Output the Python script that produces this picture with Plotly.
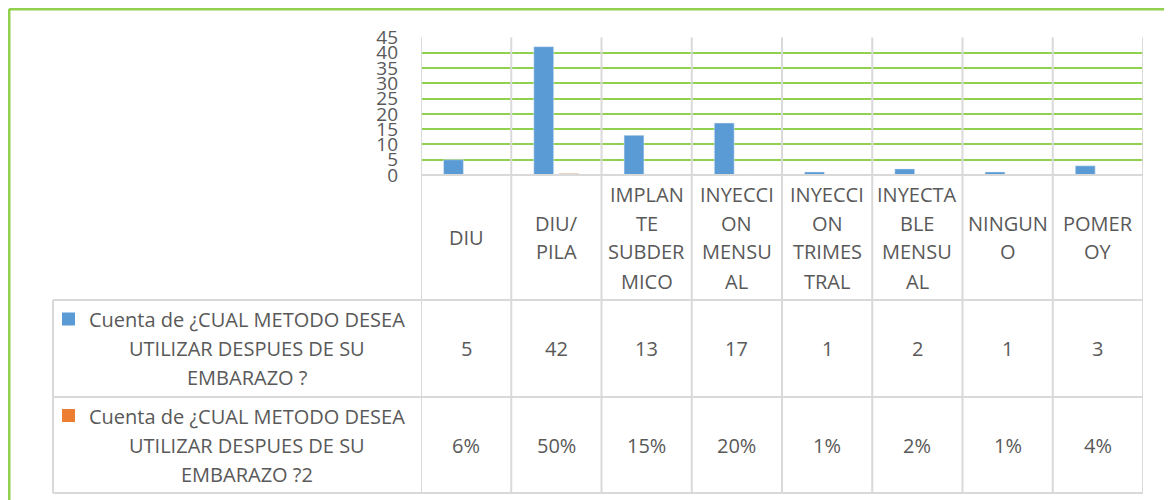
import plotly.graph_objects as go

# ---------------- data ----------------
categories = ["DIU", "DIU/PILA", "IMPLANTE SUBDERMICO", "INYECCION MENSUAL",
              "INYECCION TRIMESTRAL", "INYECTABLE MENSUAL", "NINGUNO", "POMEROY"]
category_lines = [["DIU"], ["DIU/", "PILA"], ["IMPLAN", "TE", "SUBDER", "MICO"],
                  ["INYECCI", "ON", "MENSU", "AL"], ["INYECCI", "ON", "TRIMES", "TRAL"],
                  ["INYECTA", "BLE", "MENSU", "AL"], ["NINGUN", "O"], ["POMER", "OY"]]
counts = [5, 42, 13, 17, 1, 2, 1, 3]
shares = [0.06, 0.50, 0.15, 0.20, 0.01, 0.02, 0.01, 0.04]
series_names = ["Cuenta de ¿CUAL METODO DESEA UTILIZAR DESPUES DE SU EMBARAZO ?",
                "Cuenta de ¿CUAL METODO DESEA UTILIZAR DESPUES DE SU EMBARAZO ?2"]
series_name_lines = [["Cuenta de ¿CUAL METODO DESEA", "UTILIZAR DESPUES DE SU", "EMBARAZO ?"],
                     ["Cuenta de ¿CUAL METODO DESEA", "UTILIZAR DESPUES DE SU", "EMBARAZO ?2"]]
y_ticks = [0, 5, 10, 15, 20, 25, 30, 35, 40, 45]

# ---------------- style ----------------
PAGE_OFF = 8           # page body margin in the browser
W, H = 1172 - PAGE_OFF, 500 - PAGE_OFF
BLUE, ORANGE = "#5B9BD5", "#ED7D31"
GREEN, GRAY, TEXT = "#92D050", "#D9D9D9", "#595959"
FONT = "Open Sans"
FS = 20
LINE = 29


def fx(p):
    return (p - PAGE_OFF) / W


def fy(p):
    return 1 - (p - PAGE_OFF) / H


PLOT_L, PLOT_R, PLOT_T, PLOT_B = 421, 1143, 37.5, 175
TABLE_L, ROW1, ROW2, TABLE_B = 53, 300, 397, 493
n = len(categories)
xs = list(range(n))

fig = go.Figure()
fig.add_trace(go.Bar(x=xs, y=counts, name=series_names[0], marker_color=BLUE,
                     width=0.22, offset=-0.25, hoverinfo="y"))
fig.add_trace(go.Bar(x=xs, y=shares, name=series_names[1], marker_color=ORANGE,
                     width=0.22, offset=0.03, hoverinfo="y"))

shapes = []
# outer frame (left and top visible)
shapes.append(dict(type="line", xref="paper", yref="paper", x0=fx(9), x1=fx(9),
                   y0=fy(9), y1=fy(520), line=dict(color=GREEN, width=3)))
shapes.append(dict(type="line", xref="paper", yref="paper", x0=fx(9), x1=fx(1200),
                   y0=fy(9), y1=fy(9), line=dict(color=GREEN, width=3)))
# vertical category separators
for i in range(n + 1):
    shapes.append(dict(type="line", xref="x", yref="paper", x0=i - 0.5, x1=i - 0.5,
                       y0=fy(TABLE_B), y1=fy(PLOT_T), line=dict(color=GRAY, width=2),
                       layer="above"))
# horizontal table lines
shapes.append(dict(type="line", xref="paper", yref="paper", x0=fx(PLOT_L), x1=fx(PLOT_R),
                   y0=fy(PLOT_B), y1=fy(PLOT_B), line=dict(color=GRAY, width=2)))
for yy in (ROW1, ROW2, TABLE_B):
    shapes.append(dict(type="line", xref="paper", yref="paper", x0=fx(TABLE_L), x1=fx(PLOT_R),
                       y0=fy(yy), y1=fy(yy), line=dict(color=GRAY, width=2)))
shapes.append(dict(type="line", xref="paper", yref="paper", x0=fx(TABLE_L), x1=fx(TABLE_L),
                   y0=fy(ROW1), y1=fy(TABLE_B), line=dict(color=GRAY, width=2)))

annotations = []


def add_lines(lines, xref, x, center):
    m = len(lines)
    for k, t in enumerate(lines):
        yy = center + (k - (m - 1) / 2) * LINE
        annotations.append(dict(text=t, xref=xref, yref="paper", x=x, y=fy(yy),
                                xanchor="center", yanchor="middle", showarrow=False,
                                font=dict(family=FONT, size=FS, color=TEXT)))


label_center = (PLOT_B + ROW1) / 2
row1_center = (ROW1 + ROW2) / 2
row2_center = (ROW2 + TABLE_B) / 2
for i in xs:
    add_lines(category_lines[i], "x", i, label_center)
    add_lines([str(counts[i])], "x", i, row1_center)
    add_lines([f"{shares[i]:.0%}"], "x", i, row2_center)

legend_cx = 247
for lines, center, col in ((series_name_lines[0], row1_center, BLUE),
                           (series_name_lines[1], row2_center, ORANGE)):
    add_lines(lines, "paper", fx(legend_cx), center)
    sq_y = center - LINE - 0.5
    shapes.append(dict(type="rect", xref="paper", yref="paper", x0=fx(62), x1=fx(75),
                       y0=fy(sq_y + 6.5), y1=fy(sq_y - 6.5), fillcolor=col,
                       line=dict(width=0)))

fig.update_layout(
    width=W, height=H,
    margin=dict(l=0, r=0, t=0, b=0, pad=0, autoexpand=False),
    paper_bgcolor="white", plot_bgcolor="white",
    showlegend=False,
    barmode="overlay",
    font=dict(family=FONT, color=TEXT),
    xaxis=dict(domain=[fx(PLOT_L), fx(PLOT_R)], range=[-0.5, n - 0.5], automargin=False,
               showticklabels=False, showgrid=False, zeroline=False, showline=False),
    yaxis=dict(domain=[fy(PLOT_B), fy(PLOT_T)], range=[0, 45], tickvals=y_ticks,
               ticktext=[str(v) for v in y_ticks], showgrid=True, gridcolor=GREEN,
               gridwidth=2, zeroline=False, showline=False, ticklabelstandoff=22,
               automargin=False, tickfont=dict(family=FONT, size=19, color=TEXT)),
    shapes=shapes,
    annotations=annotations,
)

fig.write_html("out.html")
